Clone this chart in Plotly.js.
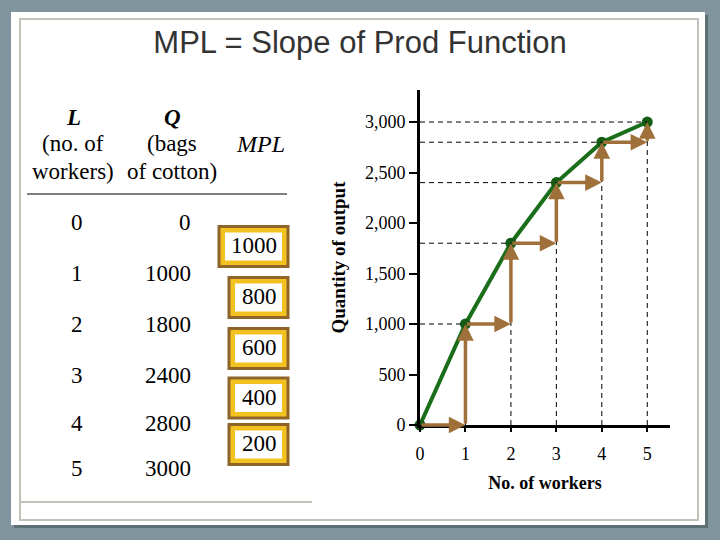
<!DOCTYPE html>
<html><head><meta charset="utf-8">
<script src="https://cdn.plot.ly/plotly-3.0.1.min.js"></script>
<style>html,body{margin:0;padding:0;background:#7f949c}</style>
</head><body><div id="chart" style="width:720px;height:540px"></div>
<script>
// ---- data ----
const workers = [0, 1, 2, 3, 4, 5];
const output = [0, 1000, 1800, 2400, 2800, 3000];
const mplValues = [1000, 800, 600, 400, 200];
const yTickVals = [0, 500, 1000, 1500, 2000, 2500, 3000];
const yTickText = ['0', '500', '1,000', '1,500', '2,000', '2,500', '3,000'];
const xTickText = ['0', '1', '2', '3', '4', '5'];

// ---- helpers (pixel -> paper, margins are 0) ----
const W = 720, H = 540;
const px = x => x / W;
const py = y => 1 - y / H;
const serif = '"Liberation Serif", "Times New Roman", serif';
const brown = '#a0703a';
const green = '#1a6e1a';

const shapes = [];
const annotations = [];

// slide frame
shapes.push({type:'rect', xref:'paper', yref:'paper', layer:'below', x0:px(14), x1:px(708), y0:py(15), y1:py(528), fillcolor:'#5e6e75', line:{width:0}});
shapes.push({type:'rect', xref:'paper', yref:'paper', layer:'below', x0:px(11), x1:px(705), y0:py(12), y1:py(525), fillcolor:'#ffffff', line:{width:0}});
shapes.push({type:'rect', xref:'paper', yref:'paper', layer:'below', x0:px(20), x1:px(698), y0:py(19), y1:py(520), fillcolor:'rgba(0,0,0,0)', line:{color:'#c3c2ba', width:2}});
shapes.push({type:'line', xref:'paper', yref:'paper', layer:'below', x0:px(20), x1:px(312), y0:py(502), y1:py(502), line:{color:'#c3c2ba', width:2}});

// dashed guide lines from data
for (let i = 1; i < workers.length; i++) {
  shapes.push({type:'line', xref:'x', yref:'y', x0:0, x1:workers[i], y0:output[i], y1:output[i], line:{color:'#000', width:1, dash:'5px,4px'}});
  shapes.push({type:'line', xref:'x', yref:'y', x0:workers[i], x1:workers[i], y0:0, y1:output[i], line:{color:'#000', width:1, dash:'5px,4px'}});
}

// step arrows (run then rise)
for (let i = 1; i < workers.length; i++) {
  annotations.push({xref:'x', yref:'y', axref:'x', ayref:'y', x:workers[i], y:output[i-1], ax:workers[i-1], ay:output[i-1], text:'', showarrow:true, arrowhead:2, arrowsize:0.95, arrowwidth:3.5, arrowcolor:brown, standoff:0, startstandoff:0});
  annotations.push({xref:'x', yref:'y', axref:'x', ayref:'y', x:workers[i], y:output[i], ax:workers[i], ay:output[i-1], text:'', showarrow:true, arrowhead:2, arrowsize:0.95, arrowwidth:3.5, arrowcolor:brown, standoff:0, startstandoff:0});
}

// ---- table ----
const tf = {family: serif, size: 23, color: '#000'};
function txt(t, x, y, opts) {
  annotations.push(Object.assign({xref:'paper', yref:'paper', x:px(x), y:py(y), text:t, showarrow:false, font:tf, xanchor:'center', yanchor:'middle'}, opts || {}));
}
txt('<b><i>L</i></b>', 73, 117);
txt('<b><i>Q</i></b>', 172, 117);
txt('(no. of', 73, 144);
txt('workers)', 73, 171);
txt('(bags', 172, 144);
txt('of cotton)', 172, 171);
txt('<i>MPL</i>', 260, 144, {font:{family:serif, size:24, color:'#000'}});
shapes.push({type:'line', xref:'paper', yref:'paper', x0:px(27), x1:px(287), y0:py(194), y1:py(194), line:{color:'#000', width:1.2}});

const rowY = [222, 273, 324, 375, 423, 468];
for (let i = 0; i < workers.length; i++) {
  txt(String(workers[i]), 77, rowY[i]);
  txt(String(output[i]), 193, rowY[i], {xanchor:'right'});
}
for (let i = 0; i < mplValues.length; i++) {
  const s = String(mplValues[i]);
  const cy = (rowY[i] + rowY[i+1]) / 2 - 1;
  const right = 288, left = right - (29 + 10 * s.length);
  const top = cy - 20, bot = cy + 20;
  shapes.push({type:'rect', xref:'paper', yref:'paper', x0:px(left), x1:px(right), y0:py(top), y1:py(bot), fillcolor:'#f2c320', line:{color:'#8e6428', width:3}});
  shapes.push({type:'rect', xref:'paper', yref:'paper', x0:px(left+6), x1:px(right-6), y0:py(top+6), y1:py(bot-6), fillcolor:'#ffffff', line:{width:0}});
  txt(s, right - 9, cy - 1, {xanchor:'right'});
}

// ---- traces ----
const traces = [{
  type:'scatter', mode:'lines+markers', x:workers, y:output,
  line:{color:green, width:4}, marker:{color:'#145c14', size:11},
  cliponaxis:false, hoverinfo:'skip'
}];

const layout = {
  width: W, height: H,
  margin:{l:0, r:0, t:0, b:0, pad:0},
  paper_bgcolor:'#7f949c', plot_bgcolor:'rgba(0,0,0,0)',
  showlegend:false,
  title:{text:'MPL = Slope of Prod Function', x:0.5, xanchor:'center', y:py(42), yanchor:'middle', yref:'paper',
         font:{family:'"Liberation Sans", Arial, sans-serif', size:31, color:'#333333'}},
  xaxis:{domain:[px(420), px(670)], range:[0, 5.5], tickvals:workers, ticktext:xTickText,
         showgrid:false, zeroline:false, showline:true, linecolor:'#000', linewidth:3,
         ticks:'outside', ticklen:4, tickwidth:2, tickcolor:'#000', ticklabelstandoff:6,
         tickfont:{family:serif, size:18, color:'#000'},
         title:{text:'<b>No. of workers</b>', font:{family:serif, size:18, color:'#000'}, standoff:14},
         automargin:false, fixedrange:true},
  yaxis:{domain:[py(425), py(90)], range:[0, 3317], tickvals:yTickVals, ticktext:yTickText,
         showgrid:false, zeroline:false, showline:true, linecolor:'#000', linewidth:3,
         ticks:'outside', ticklen:8, tickwidth:2, tickcolor:'#000',
         tickfont:{family:serif, size:18, color:'#000'},
         title:{text:'<b>Quantity of output</b>', font:{family:serif, size:19, color:'#000'}, standoff:15},
         automargin:false, fixedrange:true},
  shapes: shapes,
  annotations: annotations
};

Plotly.newPlot('chart', traces, layout, {staticPlot:true, displayModeBar:false});
</script>
</body></html>
